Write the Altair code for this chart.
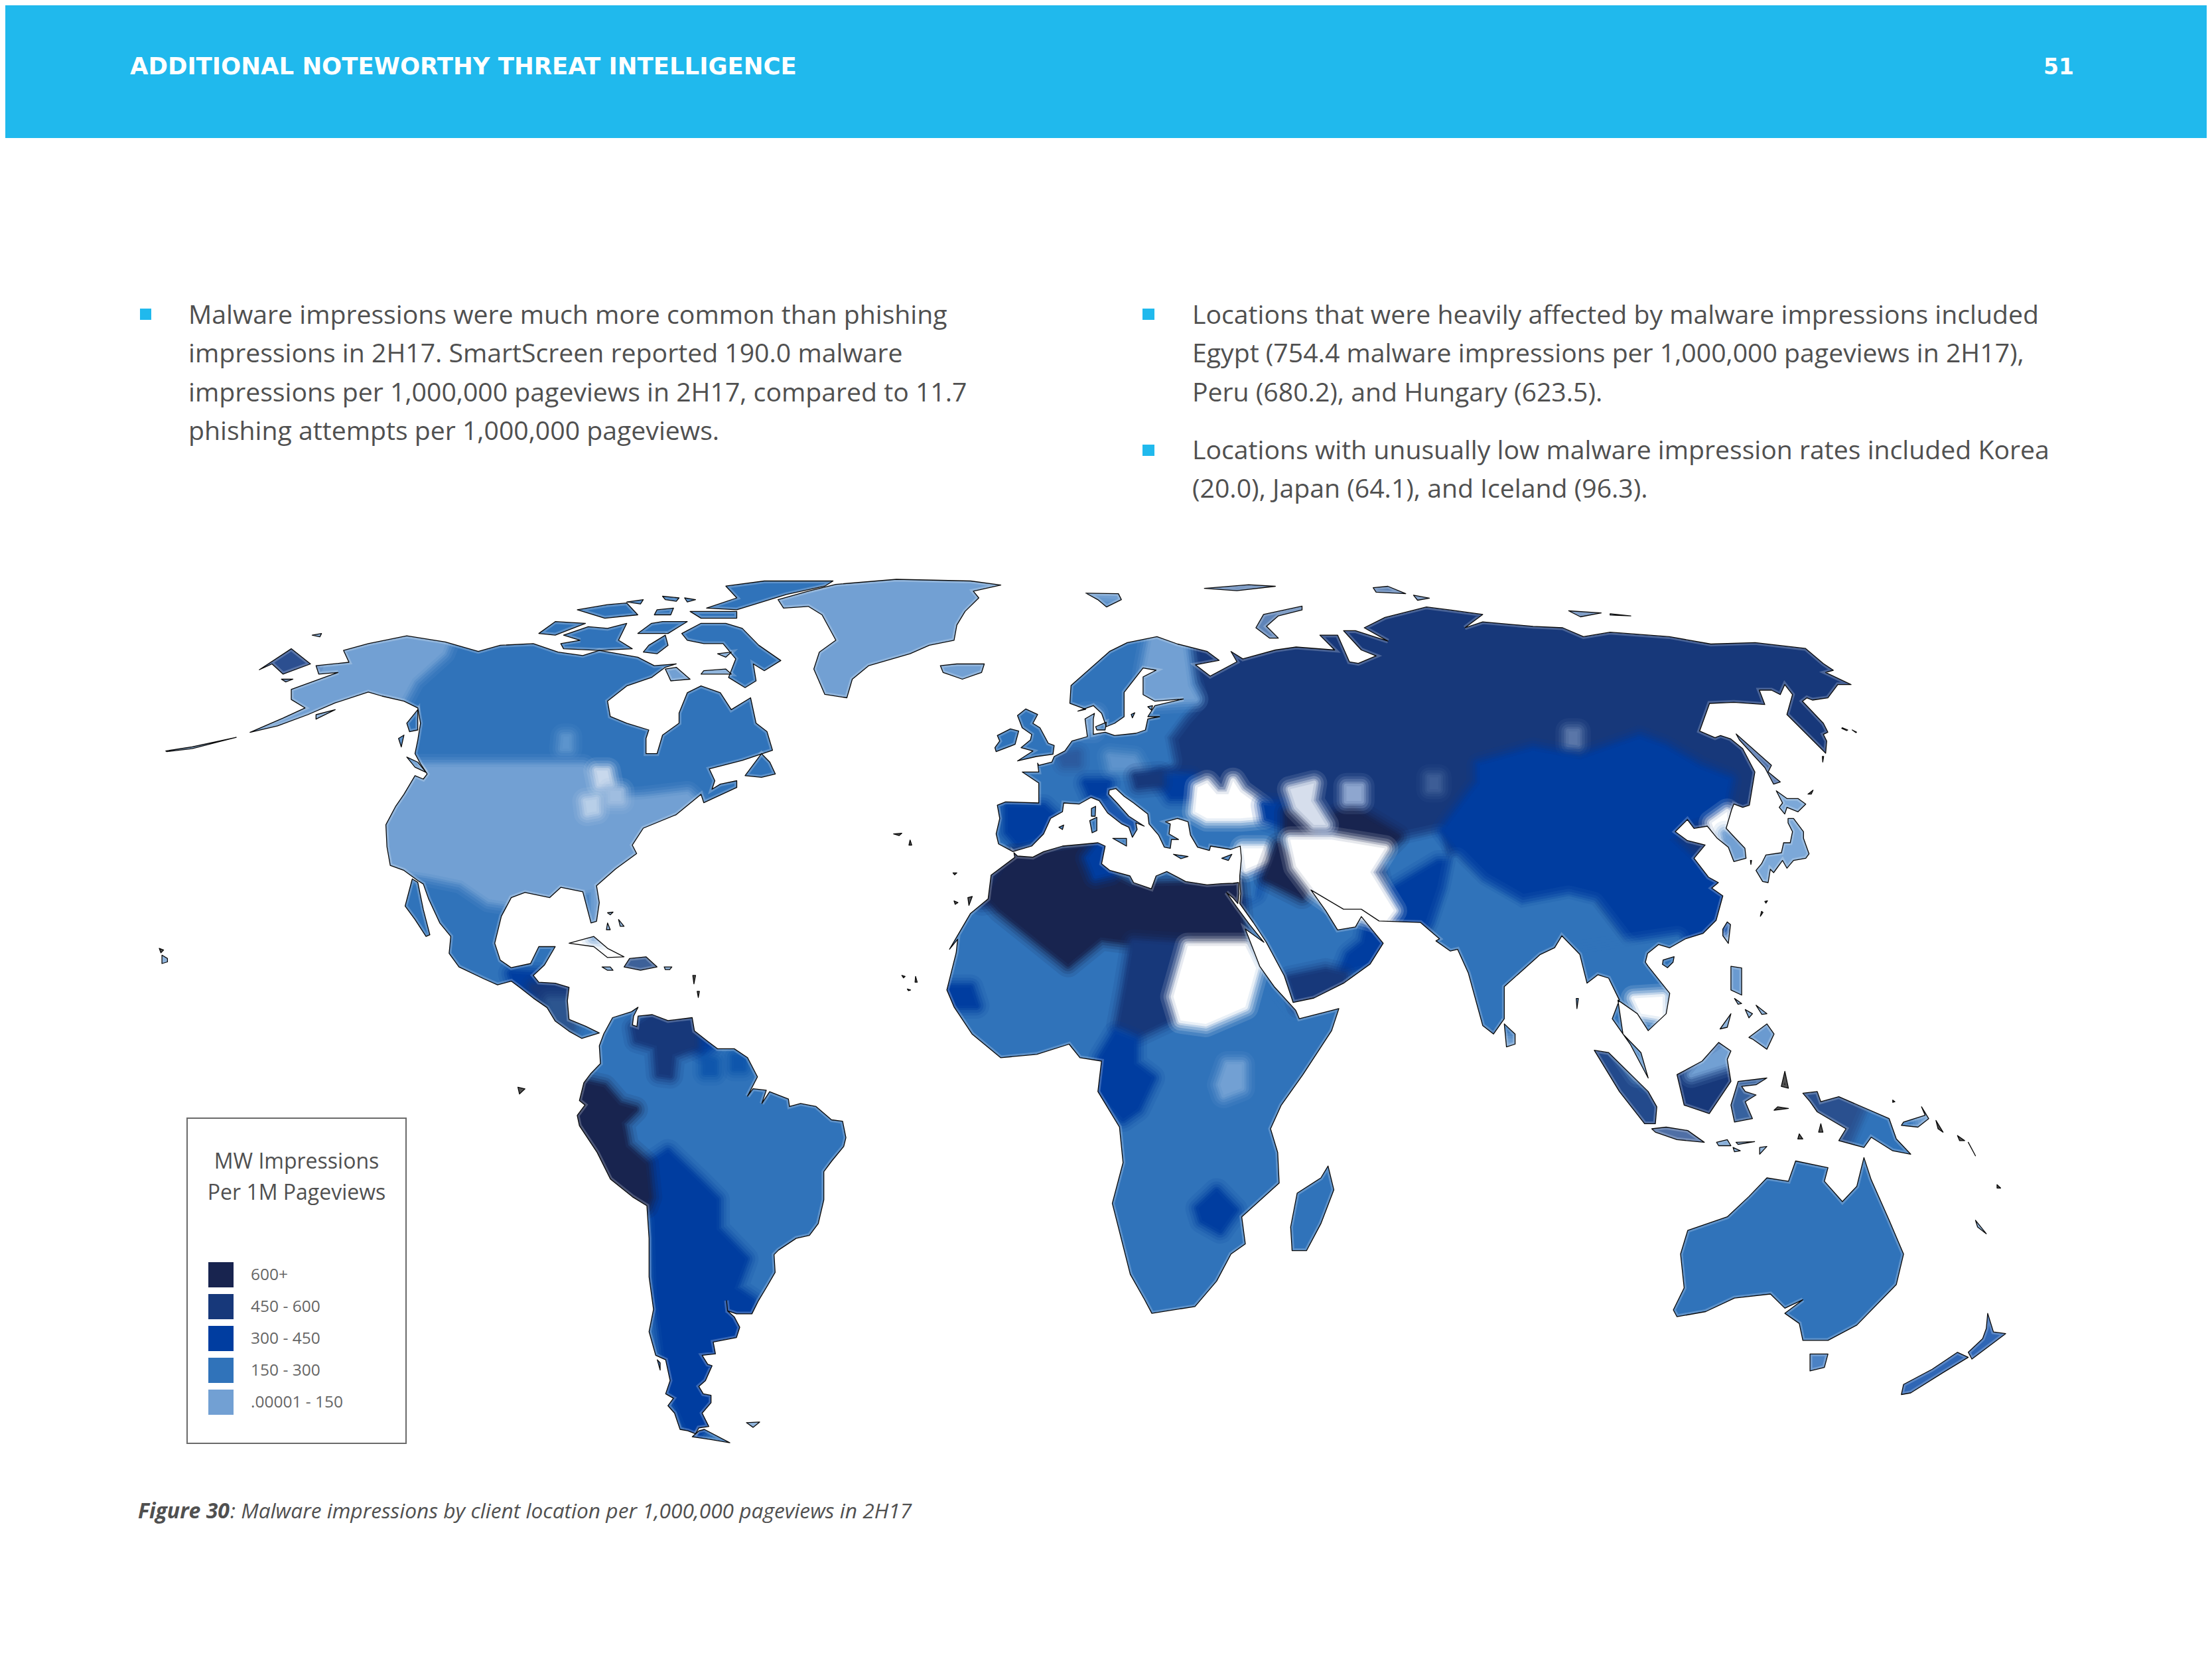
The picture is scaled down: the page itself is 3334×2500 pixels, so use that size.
import altair as alt

# page is photographed at 3334x2500, vega sits behind an 8px body margin
PAGE_W, PAGE_H = 3334, 2500
MARGIN = 8

C600 = "#18244f"
C450 = "#17387a"
C300 = "#003da0"
C150 = "#3073ba"
C000 = "#72a0d3"
WHITE = "#ffffff"
HEADER = "#20b9ed"
TEXT = "#505050"


def crop(ox, oy, w, h):
    kx = min(3 * w, 1568) / w
    ky = min(3 * h, 1568) / h
    return lambda pts: [[round(ox + x / kx, 1), round(oy + y / ky, 1)] for x, y in pts]


Z1 = crop(240, 850, 1300, 800)
Z2 = crop(1400, 850, 1400, 700)
Z3 = crop(1400, 1400, 1700, 800)
Z6 = crop(840, 1500, 500, 700)
Z7 = crop(1480, 1000, 560, 420)
Z8 = crop(2340, 1000, 500, 500)

# ─── Coast outlines ───────────────────────────────────────────────────────────

NORTH_AMERICA = Z1([
    (165, 497), (215, 478), (270, 445), (320, 410), (380, 378), (405, 390), (445, 405), (470, 425), (475, 470),
    (470, 520), (465, 560), (475, 590), (487, 620), (480, 635), (465, 625), (445, 680), (430, 715), (412, 770),
    (414, 835), (420, 890), (445, 905), (470, 935), (480, 945), (490, 990), (510, 1060), (530, 1100), (527, 1150),
    (545, 1190), (590, 1225), (615, 1243), (640, 1232), (655, 1250), (680, 1282), (705, 1310), (720, 1350),
    (745, 1380), (768, 1401), (800, 1385), (775, 1365), (745, 1345), (742, 1290), (745, 1250), (720, 1238),
    (690, 1235), (680, 1215), (700, 1185), (720, 1130), (690, 1130), (675, 1180), (640, 1192), (620, 1170),
    (610, 1120), (622, 1040), (640, 985), (665, 970), (710, 985), (730, 955), (770, 968), (785, 1060), (795, 1055),
    (800, 1000), (795, 950), (830, 900), (868, 855), (860, 830), (880, 780), (940, 740), (985, 680), (990, 705),
    (1050, 660), (1050, 640), (1020, 650), (1005, 665), (1010, 640), (1000, 605), (1060, 580), (1115, 550),
    (1105, 495), (1085, 470), (1075, 395), (1040, 430), (1020, 380), (985, 360), (960, 380), (945, 440), (945, 470),
    (915, 505), (905, 560), (885, 560), (885, 515), (890, 490), (850, 470), (820, 450), (815, 405), (850, 360),
    (895, 335), (920, 305), (940, 295), (900, 300), (870, 275), (800, 255), (770, 270), (725, 260), (680, 235),
    (620, 240), (580, 258), (520, 230), (450, 212), (380, 235), (335, 255), (345, 290), (285, 300), (290, 325),
    (325, 320), (240, 370), (240, 400), (265, 425), (225, 455),
])
BAFFIN = Z1([(950, 205), (985, 175), (1030, 175), (1060, 190), (1090, 240), (1130, 285), (1100, 315), (1080, 295),
             (1085, 345), (1065, 365), (1035, 335), (1048, 280), (1025, 235), (990, 235), (960, 225)])
VICTORIA = Z1([(735, 210), (780, 185), (815, 190), (850, 175), (835, 225), (860, 250), (800, 255), (735, 250),
               (730, 235), (765, 225)])
BANKS = Z1([(690, 205), (720, 170), (775, 175), (720, 210)])
ELLESMERE = Z1([(995, 130), (1050, 100), (1030, 65), (1100, 50), (1225, 50), (1210, 65), (1140, 90), (1100, 110),
                (1050, 135)])
DEVON = Z1([(965, 140), (1050, 140), (1050, 160), (985, 160)])
MELVILLE = Z1([(760, 135), (815, 120), (850, 115), (870, 150), (810, 160)])
SOMERSET = Z1([(915, 170), (960, 170), (925, 205), (870, 205), (895, 175)])
BOOTHIA = Z1([(890, 240), (920, 210), (925, 240), (905, 265), (880, 260)])
SOUTHAMPTON = Z1([(920, 310), (940, 305), (965, 340), (930, 345)])
COATS = Z1([(990, 315), (1030, 310), (1040, 325), (985, 325)])
FOXE = Z1([(1015, 265), (1040, 260), (1030, 275)])
SMALL_ARCTIC = [
    Z1([(915, 95), (945, 100), (940, 110), (920, 105)]),
    Z1([(955, 100), (975, 105), (960, 112)]),
    Z1([(850, 112), (880, 105), (875, 118)]),
    Z1([(905, 135), (935, 130), (930, 150), (900, 150)]),
]
NEWFOUNDLAND = Z1([(1095, 560), (1110, 585), (1120, 620), (1095, 630), (1065, 625)])
VANCOUVER = Z1([(450, 570), (470, 585), (485, 615), (465, 600)])
HAIDA = Z1([(435, 515), (445, 505), (440, 540)])
ALASKA_SOUTH = Z1([(450, 470), (470, 430), (470, 490), (455, 495)])
BAJA = Z1([(460, 930), (470, 940), (480, 1020), (492, 1095), (485, 1100), (465, 1050), (447, 1010)])
GREENLAND = Z1([(1125, 105), (1180, 80), (1230, 60), (1340, 45), (1475, 50), (1530, 62), (1480, 80), (1490, 100),
                 (1465, 140), (1450, 180), (1445, 225), (1400, 240), (1365, 265), (1290, 300), (1260, 340), (1250, 395),
                 (1210, 385), (1190, 310), (1200, 260), (1230, 225), (1205, 150), (1180, 125), (1135, 130)])
ICELAND = Z1([(1420, 300), (1450, 295), (1500, 295), (1495, 320), (1460, 340), (1425, 320)])
CHUKOTKA_TIP = Z1([(182, 312), (240, 250), (275, 295), (225, 325), (205, 295)])
ALEUTIANS = Z1([(12, 552), (60, 540), (140, 512), (108, 525), (60, 545), (14, 554)])
KODIAK = Z1([(285, 445), (320, 430), (285, 458)])
ST_LAWRENCE = Z1([(278, 210), (295, 205), (292, 215)])
NUNIVAK = Z1([(222, 340), (243, 340), (230, 348)])
HAWAII = Z1([(5, 1155), (15, 1165), (15, 1175), (5, 1180)])
CUBA = Z1([(745, 1120), (790, 1100), (815, 1135), (845, 1160), (815, 1162), (790, 1130)])
HISPANIOLA = Z1([(855, 1165), (885, 1160), (905, 1190), (875, 1200), (845, 1190)])
JAMAICA = Z1([(805, 1190), (820, 1190), (825, 1200), (815, 1200)])
PUERTO_RICO = Z1([(918, 1190), (932, 1190), (928, 1198), (920, 1198)])

SOUTH_AMERICA = Z6([
    (210, 130), (250, 75), (335, 55), (365, 40), (345, 70), (340, 100), (360, 105), (365, 70), (430, 65), (500, 85),
    (610, 75), (620, 120), (680, 155), (725, 180), (800, 180), (860, 210), (905, 275), (860, 340), (885, 315),
    (945, 320), (925, 365), (960, 325), (1045, 350), (1050, 375), (1100, 365), (1170, 375), (1240, 420), (1290, 425),
    (1305, 480), (1295, 510), (1240, 560), (1205, 595), (1205, 690), (1180, 770), (1140, 810), (1080, 820), (1000, 860),
    (980, 875), (985, 935), (950, 980), (910, 1030), (880, 1075), (810, 1075), (770, 1065), (765, 1030), (770, 1065),
    (800, 1085), (825, 1120), (810, 1155), (705, 1170), (715, 1210), (655, 1215), (680, 1245), (700, 1250), (670, 1300),
    (640, 1320), (660, 1345), (695, 1350), (695, 1375), (655, 1410), (685, 1455), (640, 1460), (625, 1480), (590, 1470),
    (555, 1465), (530, 1410), (500, 1385), (525, 1360), (490, 1345), (510, 1300), (490, 1230), (445, 1215), (415, 1135),
    (435, 1060), (415, 950), (415, 820), (405, 710), (340, 680), (240, 620), (180, 530), (100, 440), (90, 405),
    (125, 370), (100, 355), (120, 295), (150, 265), (195, 230), (190, 170),
])
FUEGO = Z6([(640, 1470), (665, 1465), (780, 1510), (700, 1500), (610, 1490)])
FALKLANDS = Z6([(855, 1442), (915, 1440), (885, 1458)])
CHILOE = Z6([(452, 1230), (465, 1240), (465, 1265)])

AFRICA = (
    Z7([(135, 855), (150, 870), (215, 875), (260, 850), (340, 825), (490, 810), (520, 825), (505, 905), (540, 935),
        (625, 960), (640, 990), (715, 1018), (735, 960), (780, 940), (860, 985), (950, 1000), (1010, 995), (1060, 993),
        (1083, 990), (1085, 1040), (1080, 1085), (1060, 1060), (1032, 1035), (1075, 1100), (1130, 1180), (1190, 1260)])
    + Z3([(440, 0), (460, 110), (480, 170), (510, 240), (515, 265), (570, 235), (560, 300), (520, 430), (490, 520),
          (475, 590), (485, 660), (487, 750), (435, 850), (440, 930), (420, 960), (400, 1040), (370, 1115), (310, 1135),
          (300, 1095), (280, 1020), (255, 810), (270, 690), (265, 585), (235, 480), (240, 390), (210, 380), (195, 340),
          (150, 370), (100, 380), (60, 310), (35, 230), (25, 180), (38, 70), (40, 30)])
    + Z2([(35, 1300), (70, 1180), (100, 1130), (105, 1050), (145, 990)])
)
MADAGASCAR = Z3([(555, 700), (563, 770), (545, 870), (525, 950), (505, 950), (503, 880), (512, 780), (545, 735)])

EURASIA = (
    Z7([(130, 850), (210, 825), (260, 770), (290, 700), (340, 670), (345, 630), (410, 635), (460, 605), (495, 620),
        (530, 675), (590, 725), (620, 740), (635, 785), (655, 750), (650, 720), (685, 735), (620, 690), (570, 630),
        (535, 590), (537, 572), (565, 565), (600, 600), (640, 630), (700, 680), (705, 725), (745, 775), (770, 830),
        (795, 835), (800, 795), (830, 795), (790, 770), (795, 725), (775, 715), (825, 700), (870, 715), (880, 775),
        (910, 830), (960, 845), (965, 825), (1050, 840), (1090, 825), (1095, 880), (1088, 960), (1088, 990),
        (1092, 1040), (1088, 1085), (1145, 1170), (1200, 1260)])
    + Z2([(600, 1390), (615, 1480), (650, 1465), (700, 1415), (745, 1350), (767, 1280), (730, 1190), (720, 1225),
          (690, 1235), (670, 1170), (645, 1100), (700, 1165), (730, 1165), (760, 1205), (830, 1210), (862, 1265)])
    + Z3([(705, 35), (725, 65), (735, 60), (750, 130), (770, 285), (785, 310), (800, 265), (800, 170), (850, 75),
          (870, 55), (880, 20), (905, 75), (915, 160), (930, 135), (945, 145), (960, 210), (950, 265), (975, 340),
          (1000, 440), (990, 365), (965, 310), (958, 210), (985, 250), (1000, 300), (1025, 250), (1030, 190), (1000, 110)])
    + Z8([(420, 1350), (430, 1310), (480, 1270), (530, 1285), (600, 1245), (680, 1220), (740, 1160), (770, 1050),
          (720, 1015), (750, 990), (705, 965), (640, 880), (690, 820), (610, 800), (555, 760), (610, 705), (640, 745),
          (700, 735), (745, 790), (795, 830), (820, 895), (875, 880), (870, 835), (785, 745), (810, 660), (820, 635),
          (860, 650), (890, 640), (915, 490), (860, 385), (805, 340), (760, 325), (735, 335), (700, 320), (665, 305),
          (710, 180), (820, 175), (960, 185), (935, 120), (990, 120), (1030, 140), (1050, 95), (1085, 140), (1060, 230),
          (1235, 405), (1240, 350), (1225, 320), (1245, 310), (1225, 270), (1130, 170), (1150, 155), (1175, 165),
          (1245, 155), (1290, 95), (1350, 95), (1235, 40), (1270, 30), (1225, 0)])
    + Z2([(1480, 285), (1395, 265), (1320, 270), (1250, 245), (1150, 230), (1105, 245), (1070, 215), (1020, 210),
          (935, 195), (905, 215), (935, 170), (880, 155), (840, 145), (770, 180), (735, 215), (775, 260), (720, 225),
          (700, 225), (730, 290), (755, 310), (725, 335), (710, 330), (690, 240), (660, 240), (685, 290), (620, 280),
          (585, 290), (530, 320), (510, 295), (520, 330), (475, 378), (450, 340), (490, 325), (470, 295), (420, 270),
          (385, 245), (335, 265), (305, 295), (240, 410), (238, 470), (265, 490)])
    + Z7([(405, 215), (470, 190), (505, 225), (525, 285), (560, 270), (600, 240), (600, 130), (680, 20), (735, 30),
          (680, 60), (680, 140), (730, 170), (850, 160), (730, 190), (700, 240), (750, 240), (700, 250), (690, 300),
          (650, 315), (560, 325), (520, 310), (470, 320), (470, 250), (475, 225), (435, 250), (445, 330), (380, 350),
          (350, 395), (305, 420), (295, 445), (240, 460), (235, 450), (240, 490), (170, 490), (240, 540), (240, 630),
          (100, 625), (65, 640), (75, 700), (60, 770), (70, 815)])
)

GREAT_BRITAIN = Z7([(185, 205), (235, 230), (215, 270), (245, 290), (280, 360), (305, 370), (300, 410), (230, 420),
                    (150, 440), (215, 395), (165, 380), (205, 345), (210, 320), (170, 290), (150, 235)])
IRELAND = Z7([(65, 325), (120, 295), (155, 305), (140, 365), (60, 398), (55, 380), (75, 350)])
SICILY = Z7([(552, 790), (610, 790), (610, 825)])
SARDINIA = Z7([(455, 710), (485, 695), (485, 755), (465, 765)])
CORSICA = Z7([(462, 655), (480, 645), (478, 690), (462, 690)])
CRETE = Z7([(808, 862), (870, 872), (840, 882)])
CYPRUS = Z7([(1012, 880), (1055, 862), (1040, 890)])
BALEARIC = Z7([(325, 740), (345, 730), (340, 750)])
ZEALAND = Z7([(480, 285), (525, 265), (520, 300), (485, 300)])
GOTLAND = Z7([(630, 230), (645, 222), (635, 245)])
SAAREMAA = Z7([(700, 195), (720, 190), (715, 210)])

NOVAYA_ZEMLYA = Z2([(552, 215), (565, 170), (630, 142), (630, 155), (590, 175), (570, 210), (590, 250), (575, 250)])
SVALBARD = Z2([(265, 98), (320, 100), (325, 120), (300, 145), (285, 120)])
FRANZ_JOSEF = Z2([(465, 82), (540, 70), (585, 75), (520, 90)])
SEVERNAYA = Z2([(750, 80), (775, 75), (805, 100), (755, 95)])
TAIMYR_ISLE = Z2([(818, 105), (845, 115), (825, 122)])
NEW_SIBERIAN = Z2([(1080, 158), (1135, 165), (1100, 178)])
NEW_SIBERIAN_2 = Z2([(1150, 168), (1185, 175), (1150, 172)])

HONSHU = Z8([(1065, 700), (1090, 700), (1135, 760), (1135, 790), (1160, 860), (1145, 880), (1090, 890), (1060, 925),
             (1040, 890), (1000, 945), (985, 930), (975, 990), (950, 985), (920, 935), (945, 905), (965, 865),
             (1035, 855), (1045, 810), (1075, 810), (1085, 760), (1065, 720)])
HOKKAIDO = Z8([(1012, 575), (1060, 610), (1110, 610), (1145, 635), (1110, 670), (1060, 650), (1050, 680), (1025, 650),
               (1040, 630)])
SAKHALIN = Z8([(830, 318), (990, 460), (975, 490), (1030, 535), (1000, 545), (960, 470), (845, 345)])
TAIWAN = Z8([(790, 1168), (805, 1180), (795, 1265), (770, 1230), (770, 1200)])
HAINAN = Z8([(500, 1340), (550, 1325), (545, 1350), (520, 1375), (497, 1360)])
SPECKS = [
    Z8([(1310, 290), (1335, 300), (1330, 303), (1308, 293)]),
    Z8([(1355, 300), (1375, 310), (1372, 312)]),
    Z8([(1220, 420), (1226, 420), (1222, 445)]),
    Z8([(1155, 590), (1178, 572), (1170, 590)]),
    Z8([(945, 1120), (952, 1125), (940, 1142)]),
    Z8([(960, 1075), (972, 1072), (965, 1083)]),
    Z8([(895, 890), (900, 890), (897, 908)]),
    Z3([(900, 205), (903, 205), (901, 235)]),
    Z1([(815, 1060), (820, 1080), (813, 1080)]),
    # Azores, Madeira, Canaries, Cape Verde
    Z1([(1335, 797), (1350, 795), (1345, 802)]),
    Z1([(1365, 815), (1368, 830), (1363, 830)]),
    Z1([(1443, 912), (1450, 912), (1446, 918)]),
    Z1([(1445, 995), (1452, 1000), (1447, 1005)]),
    Z1([(1470, 985), (1478, 982), (1472, 1008)]),
    Z1([(1350, 1215), (1356, 1218), (1353, 1222)]),
    Z1([(1375, 1218), (1378, 1235), (1374, 1235)]),
    Z1([(1360, 1255), (1366, 1258), (1362, 1260)]),
    # Caribbean
    Z1([(970, 1215), (975, 1215), (972, 1240)]),
    Z1([(978, 1262), (982, 1262), (980, 1280)]),
    Z1([(815, 1030), (825, 1028), (820, 1036)]),
    Z1([(835, 1050), (845, 1070), (838, 1070)]),
    Z1([(0, 1135), (8, 1140), (3, 1148)]),
    Z1([(652, 1545), (665, 1550), (655, 1565)]),
    # Pacific and the Banda Sea
    Z3([(1400, 565), (1410, 600), (1403, 590)]),
    Z3([(1430, 610), (1440, 625), (1433, 625)]),
    Z3([(1445, 630), (1455, 670), (1450, 650)]),
    Z3([(1485, 755), (1490, 765), (1485, 765)]),
    Z3([(1340, 505), (1343, 510), (1340, 512)]),
    Z3([(1190, 420), (1195, 470), (1185, 465)]),
    Z3([(1180, 525), (1195, 530), (1175, 535)]),
    Z3([(1240, 575), (1243, 600), (1237, 600)]),
    Z3([(1210, 605), (1215, 620), (1208, 620)]),
]
NEW_CALEDONIA = Z3([(1455, 860), (1470, 900), (1458, 880)])

LUZON = Z3([(1115, 110), (1130, 115), (1130, 195), (1115, 180)])
MINDANAO = Z3([(1140, 320), (1165, 280), (1175, 310), (1165, 355), (1145, 325)])
PALAWAN = Z3([(1100, 295), (1115, 250), (1110, 290)])
VISAYAS = [
    Z3([(1120, 205), (1130, 220), (1125, 222)]),
    Z3([(1150, 225), (1165, 250), (1158, 252)]),
    Z3([(1135, 238), (1145, 250), (1140, 262)]),
]
SUMATRA = Z3([(925, 358), (945, 365), (1000, 480), (1012, 525), (1010, 575), (995, 575), (960, 480)])
JAVA = Z3([(1005, 590), (1025, 585), (1055, 595), (1078, 630), (1040, 622), (1010, 600)])
BORNEO = Z3([(1040, 430), (1075, 390), (1098, 335), (1115, 360), (1110, 385), (1115, 450), (1085, 545), (1050, 520)])
SULAWESI = Z3([(1125, 450), (1165, 440), (1150, 460), (1130, 465), (1135, 480), (1150, 490), (1135, 510), (1145, 560),
               (1120, 570), (1115, 520)])
NEW_GUINEA = Z3([(1215, 485), (1235, 480), (1240, 510), (1265, 495), (1335, 560), (1345, 620), (1365, 665), (1340, 655),
                 (1310, 615), (1300, 645), (1265, 625), (1275, 590), (1235, 540), (1225, 510)])
NEW_BRITAIN = Z3([(1355, 570), (1385, 550), (1380, 525), (1390, 560), (1375, 585), (1352, 580)])
LESSER_SUNDA = [
    Z3([(1095, 630), (1110, 622), (1115, 640), (1098, 640)]),
    Z3([(1122, 630), (1148, 628), (1125, 636)]),
    Z3([(1155, 645), (1165, 642), (1155, 665)]),
    Z3([(1118, 645), (1128, 655), (1120, 658)]),
]
SRI_LANKA = Z3([(800, 280), (815, 310), (815, 340), (803, 348)])
AUSTRALIA = Z3([(1300, 675), (1310, 740), (1335, 860), (1355, 960), (1345, 1050), (1290, 1170), (1250, 1215),
                (1215, 1215), (1210, 1165), (1190, 1135), (1215, 1095), (1190, 1120), (1170, 1078), (1120, 1090),
                (1080, 1130), (1040, 1145), (1035, 1125), (1050, 1060), (1045, 960), (1055, 890), (1110, 850),
                (1140, 790), (1165, 735), (1195, 745), (1205, 685), (1250, 705), (1245, 745), (1270, 805), (1290, 760)])
TASMANIA = Z3([(1225, 1255), (1250, 1255), (1245, 1295), (1225, 1305)])
NZ_NORTH = Z3([(1472, 1135), (1480, 1190), (1497, 1195), (1450, 1270), (1445, 1250), (1465, 1210), (1470, 1180)])
NZ_SOUTH = Z3([(1430, 1250), (1445, 1265), (1410, 1310), (1365, 1370), (1352, 1375), (1355, 1345), (1395, 1300)])

LAND = [
    (NORTH_AMERICA, C150), (BAFFIN, C150), (VICTORIA, C150), (BANKS, C150), (ELLESMERE, C150), (DEVON, C150),
    (MELVILLE, C150), (SOMERSET, C150), (BOOTHIA, C150), (SOUTHAMPTON, C000), (COATS, C000), (FOXE, C000),
    (NEWFOUNDLAND, C150), (VANCOUVER, C150), (HAIDA, C150), (ALASKA_SOUTH, C150), (BAJA, C150), (GREENLAND, C000),
    (ICELAND, C000), (CHUKOTKA_TIP, "#2c4f90"), (ALEUTIANS, C000), (KODIAK, C000), (ST_LAWRENCE, C000), (NUNIVAK, C000),
    (HAWAII, C000), (CUBA, WHITE), (HISPANIOLA, "#3d6199"), (JAMAICA, C000), (PUERTO_RICO, C000),
    (SOUTH_AMERICA, C150), (FUEGO, C150), (FALKLANDS, C000), (CHILOE, C150),
    (AFRICA, C150), (MADAGASCAR, C150),
    (EURASIA, C450), (GREAT_BRITAIN, C150), (IRELAND, "#38629f"), (SICILY, "#4b82c4"), (SARDINIA, "#4b82c4"),
    (CORSICA, "#4b82c4"), (CRETE, C000), (CYPRUS, C000), (BALEARIC, C000), (ZEALAND, C000), (GOTLAND, C000),
    (SAAREMAA, C000), (NOVAYA_ZEMLYA, "#5f84b8"), (SVALBARD, C000), (FRANZ_JOSEF, "#5f84b8"), (SEVERNAYA, "#5f84b8"),
    (TAIMYR_ISLE, "#5f84b8"), (NEW_SIBERIAN, "#5f84b8"), (NEW_SIBERIAN_2, "#5f84b8"),
    (HONSHU, "#7ca8d8"), (HOKKAIDO, "#7ca8d8"), (SAKHALIN, "#4a6ea8"), (TAIWAN, "#a4c3e4"), (HAINAN, "#4680c4"),
    (LUZON, "#6a9ad0"), (MINDANAO, "#6a9ad0"), (PALAWAN, C000), (SUMATRA, "#234a8c"), (JAVA, "#4f6fa6"),
    (BORNEO, C450), (SULAWESI, "#37629f"), (NEW_GUINEA, "#2a508f"), (NEW_BRITAIN, C000), (SRI_LANKA, C000),
    (AUSTRALIA, C150), (TASMANIA, "#4b82c4"), (NZ_NORTH, "#2f66b5"), (NZ_SOUTH, "#2f66b5"), (NEW_CALEDONIA, C000),
] + [(r, C150) for r in SMALL_ARCTIC] + [(r, C000) for r in VISAYAS + LESSER_SUNDA] + [(r, "#222222") for r in SPECKS]

# ─── Value zones painted over the land, later ones on top ─────────────────────

ZONES = [
    # North America
    (Z1([(300, 190), (530, 200), (515, 260), (460, 340), (440, 400), (300, 460), (130, 520), (165, 560)]), C000),
    (Z1([(380, 600), (770, 600), (800, 650), (830, 700), (880, 695), (960, 680), (1000, 740), (1000, 1100), (790, 1100),
         (790, 960), (640, 1000), (600, 990), (550, 935), (490, 915), (430, 900), (380, 900)]), C000),
    (CHUKOTKA_TIP, "#2c4f90"),
    (Z1([(795, 610), (815, 610), (820, 650), (800, 650)]), "#c8d8ec"),
    (Z1([(775, 700), (795, 695), (795, 730), (778, 735)]), "#b8cfe8"),
    (Z1([(820, 670), (840, 670), (840, 700), (820, 700)]), "#9fbde0"),
    (Z1([(735, 510), (745, 510), (745, 545), (733, 545)]), "#5c94cd"),
    (Z1([(640, 1210), (690, 1215), (690, 1260), (650, 1260)]), C300),
    (Z1([(680, 1250), (745, 1240), (745, 1290), (700, 1290)]), C450),
    (Z1([(710, 1290), (745, 1290), (750, 1370), (725, 1350)]), "#2c558f"),
    # South America
    (Z6([(420, 570), (500, 530), (640, 630), (720, 690), (720, 790), (850, 890), (800, 990), (880, 1030), (880, 1080),
         (830, 1160), (700, 1280), (700, 1400), (640, 1480), (590, 1470), (500, 1310), (450, 1010), (440, 760),
         (420, 690)]), C300),
    (Z6([(90, 290), (210, 310), (280, 370), (350, 385), (290, 430), (310, 510), (400, 570), (415, 680), (400, 710),
         (230, 630), (90, 450)]), C600),
    (Z6([(620, 120), (690, 170), (660, 190), (620, 170)]), C300),
    (Z6([(670, 215), (710, 225), (710, 260), (670, 260)]), "#0f56ac"),
    (Z6([(800, 210), (840, 210), (840, 245), (800, 245)]), "#0f56ac"),
    (Z6([(350, 110), (430, 70), (620, 90), (620, 170), (520, 200), (510, 270), (460, 265), (450, 170), (360, 150)]), C450),
    # Europe, Turkey and the Caucasus
    (Z7([(300, -260), (850, -200), (870, 50), (900, 160), (840, 230), (770, 330), (790, 440), (650, 500), (880, 560),
         (900, 700), (1290, 700), (1290, 830), (1100, 860), (1080, 900), (800, 900), (700, 880), (520, 800), (260, 800),
         (150, 840), (40, 870), (0, 870), (0, 200)]), C150),
    (Z7([(720, -130), (840, -130), (870, 100), (900, 160), (720, 170), (690, 130), (690, 40)]), C000),
    (Z7([(440, 230), (480, 230), (470, 300), (440, 300)]), C000),
    (Z7([(110, 650), (260, 650), (300, 690), (260, 780), (150, 810), (110, 760)]), C300),
    (Z7([(440, 540), (530, 540), (520, 600), (460, 590)]), C300),
    (Z7([(530, 640), (600, 700), (650, 720), (620, 740), (540, 680)]), "#1a55ad"),
    (Z7([(340, 420), (400, 410), (400, 450), (350, 450)]), "#2c5a9e"),
    (Z7([(540, 420), (640, 430), (660, 470), (550, 470)]), "#5e93cc"),
    (Z7([(750, 520), (880, 520), (880, 600), (800, 600)]), C300),
    (Z7([(650, 510), (750, 500), (750, 540), (660, 550)]), C450),
    (Z7([(910, 560), (950, 540), (990, 590), (1040, 590), (1060, 530), (1090, 580), (1180, 650), (1190, 690),
         (1090, 700), (950, 700), (900, 670)]), WHITE),
    (Z7([(1190, 640), (1280, 650), (1290, 730), (1200, 700)]), C300),
    # Middle East and Central Asia
    (Z2([(520, 1070), (640, 1100), (700, 1180), (800, 1300), (620, 1500), (500, 1200)]), C150),
    (Z2([(740, 1230), (790, 1280), (760, 1340), (700, 1370), (710, 1320), (735, 1280)]), C300),
    (Z2([(610, 1400), (670, 1375), (700, 1390), (700, 1430), (625, 1490)]), C450),
    (Z2([(520, 1060), (560, 1050), (550, 1110), (530, 1130)]), C300),
    (Z7([(1090, 960), (1150, 980), (1140, 1050), (1100, 1040)]), C150),
    (Z2([(530, 960), (565, 960), (570, 1000), (535, 1030)]), WHITE),
    (Z2([(770, 960), (860, 920), (870, 1000), (850, 1060), (790, 1130)]), C150),
    (Z2([(785, 1100), (860, 1010), (880, 1010), (880, 1120), (860, 1220), (790, 1200)]), C300),
    (Z2([(690, 850), (715, 830), (790, 920), (770, 960), (700, 920)]), C600),
    (Z2([(605, 840), (640, 860), (640, 900), (605, 900)]), C600),
    (Z2([(590, 950), (610, 1000), (640, 1090), (630, 1120), (570, 1060)]), C600),
    (Z2([(610, 930), (680, 930), (770, 960), (745, 1040), (785, 1170), (770, 1210), (700, 1170), (650, 1100),
         (620, 1020)]), WHITE),
    (Z2([(610, 760), (650, 740), (645, 800), (670, 880), (650, 880), (620, 820)]), "#d6deec"),
    (Z2([(705, 750), (730, 750), (730, 800), (705, 800)]), "#8ea6cf"),
    (Z2([(1080, 565), (1095, 565), (1095, 610), (1080, 610)]), "#5a76a8"),
    (Z2([(845, 720), (860, 720), (860, 760), (845, 760)]), "#3d5d96"),
    # China, South and East Asia
    (Z2([(870, 900), (930, 740), (930, 680), (1020, 630), (1100, 660), (1200, 590), (1240, 620), (1300, 690),
         (1350, 730), (1340, 830), (1290, 860), (1250, 930), (1340, 1100), (1340, 1230), (1240, 1290), (1180, 1270),
         (1130, 1130), (1020, 1170), (950, 1110), (900, 980)]), C300),
    (Z2([(890, 1000), (930, 1080), (1000, 1160), (1080, 1130), (1120, 1150), (1170, 1280), (1250, 1400), (1260, 1568),
         (900, 1568), (850, 1260), (860, 1220), (880, 1100)]), C150),
    (Z3([(880, 80), (1040, 30), (1040, 300), (1000, 450), (940, 300)]), C150),
    (Z3([(950, 300), (1000, 430), (985, 430), (950, 320)]), C000),
    (Z3([(980, 205), (1020, 200), (1020, 260), (990, 250)]), WHITE),
    (Z8([(720, 720), (790, 670), (790, 760), (760, 790), (730, 750)]), WHITE),
    (Z8([(780, 770), (875, 840), (875, 880), (825, 895), (790, 810)]), C000),
    # Africa
    (Z7([(130, 870), (230, 885), (130, 960), (50, 1070), (0, 1080), (40, 980)]), C450),
    (Z2([(100, 1120), (140, 990), (290, 950), (300, 1050), (340, 1090), (520, 1080), (530, 1280), (440, 1280),
         (330, 1270), (290, 1260), (235, 1350), (120, 1165)]), C600),
    (Z7([(500, 810), (525, 820), (505, 905), (540, 945), (480, 960), (450, 880)]), C300),
    (Z2([(30, 1430), (70, 1430), (80, 1490), (40, 1490)]), C300),
    (Z3([(285, 40), (355, 50), (345, 170), (340, 260), (290, 310), (265, 285), (275, 170)]), C450),
    (Z3([(360, 50), (440, 50), (455, 115), (440, 230), (385, 280), (350, 270), (340, 200)]), WHITE),
    (Z3([(260, 310), (285, 330), (285, 400), (310, 440), (290, 530), (270, 560), (240, 490), (235, 440), (240, 380)]), C300),
    (Z3([(415, 400), (435, 400), (435, 470), (410, 490), (405, 460)]), C000),
    (Z3([(400, 775), (425, 830), (405, 890), (380, 860), (375, 825)]), C300),
    # Islands
    (Z3([(1075, 390), (1110, 340), (1120, 390), (1060, 430)]), C000),
    (Z3([(1310, 540), (1360, 560), (1370, 670), (1320, 650), (1290, 640), (1300, 590)]), C150),
]

# soft edge of the zones: stroke width and opacity of the halos under each fill
HALOS = [(40, 0.12), (30, 0.18), (22, 0.28), (14, 0.42), (8, 0.65)]

# ─── Page content ─────────────────────────────────────────────────────────────

HEADER_TITLE = "ADDITIONAL NOTEWORTHY THREAT INTELLIGENCE"
PAGE_NUMBER = "51"
LEFT_LINES = [
    "Malware impressions were much more common than phishing",
    "impressions in 2H17. SmartScreen reported 190.0 malware",
    "impressions per 1,000,000 pageviews in 2H17, compared to 11.7",
    "phishing attempts per 1,000,000 pageviews.",
]
RIGHT_LINES_1 = [
    "Locations that were heavily affected by malware impressions included",
    "Egypt (754.4 malware impressions per 1,000,000 pageviews in 2H17),",
    "Peru (680.2), and Hungary (623.5).",
]
RIGHT_LINES_2 = [
    "Locations with unusually low malware impression rates included Korea",
    "(20.0), Japan (64.1), and Iceland (96.3).",
]
LEGEND_TITLE = ["MW Impressions", "Per 1M Pageviews"]
LEGEND_LABELS = ["600+", "450 - 600", "300 - 450", "150 - 300", ".00001 - 150"]
LEGEND_COLORS = [C600, C450, C300, C150, C000]
CAPTION_BOLD = "Figure 30"
CAPTION = ": Malware impressions by client location per 1,000,000 pageviews in 2H17"

ONE_ROW = alt.Data(values=[{"k": 0}])
MAP_PROJECTION = alt.Projection(type="identity", scale=1, translate=[-MARGIN, -MARGIN])


def closed(ring):
    return ring + [ring[0]]


def signed_area(ring):
    return sum(a[0] * b[1] - b[0] * a[1] for a, b in zip(ring, ring[1:] + ring[:1])) / 2


def feature(rings, **props):
    return {"type": "Feature", "properties": props, "geometry": {"type": "Polygon", "coordinates": rings}}


def text(label, x, y, size, color=TEXT, font="Open Sans", weight=400, style="normal", align="left"):
    return alt.Chart(alt.Data(values=[{"t": label}])).mark_text(
        font=font, fontSize=size, fontWeight=weight, fontStyle=style, color=color, align=align, baseline="alphabetic",
    ).encode(x=alt.value(x - MARGIN), y=alt.value(y - MARGIN), text="t:N")


def box(x0, y0, x1, y1, fill, stroke=None):
    opts = {"color": fill}
    if stroke:
        opts.update(stroke=stroke, strokeWidth=2, fillOpacity=0)
    return alt.Chart(ONE_ROW).mark_rect(**opts).encode(
        x=alt.value(x0 - MARGIN), x2=alt.value(x1 - MARGIN), y=alt.value(y0 - MARGIN), y2=alt.value(y1 - MARGIN),
    )


# land first, then every zone with its halos
paint = [feature([closed(r)], col=c, sw=0, op=1) for r, c in LAND]
for ring, col in ZONES:
    for sw, op in HALOS:
        paint.append(feature([closed(ring)], col=col, sw=sw, op=op))
    paint.append(feature([closed(ring)], col=col, sw=0, op=1))

map_fill = alt.Chart(alt.Data(values=paint)).mark_geoshape(strokeJoin="round").encode(
    fill=alt.Fill("properties.col:N", scale=None),
    stroke=alt.Stroke("properties.col:N", scale=None),
    strokeWidth=alt.StrokeWidth("properties.sw:Q", scale=None),
    opacity=alt.Opacity("properties.op:Q", scale=None),
).project(**MAP_PROJECTION.to_dict())

# white sheet with the land cut out keeps the zones inside the coasts
sheet = [[150, 845], [3250, 845], [3250, 2235], [150, 2235]]
holes = []
for ring, _ in LAND:
    same_way = (signed_area(ring) > 0) == (signed_area(sheet) > 0)
    holes.append(closed(ring[::-1] if same_way else ring))
ocean = alt.Chart(alt.Data(values=[feature([closed(sheet)] + holes)])).mark_geoshape(
    fill=WHITE, stroke=None, strokeWidth=0
).project(**MAP_PROJECTION.to_dict())

outlines = [feature([closed(r)]) for r, _ in LAND]
coast_glow = alt.Chart(alt.Data(values=outlines)).mark_geoshape(
    filled=False, stroke=WHITE, strokeWidth=7, strokeOpacity=0.22
).project(**MAP_PROJECTION.to_dict())
coast = alt.Chart(alt.Data(values=outlines)).mark_geoshape(
    filled=False, stroke="#080808", strokeWidth=1.3, strokeJoin="round"
).project(**MAP_PROJECTION.to_dict())

layers = [box(0, 0, PAGE_W, 208, HEADER), map_fill, ocean, coast_glow, coast]

layers.append(text(HEADER_TITLE, 196, 112, 35.5, color=WHITE, font="DejaVu Sans", weight=700))
layers.append(text(PAGE_NUMBER, 3126, 112, 33, color=WHITE, font="DejaVu Sans", weight=700, align="right"))

layers.append(box(211, 465, 228, 482, HEADER))
layers.append(box(1722, 465, 1740, 482, HEADER))
layers.append(box(1722, 670, 1740, 687, HEADER))
for i, line in enumerate(LEFT_LINES):
    layers.append(text(line, 284, 488 + 58.3 * i, 39.2))
for i, line in enumerate(RIGHT_LINES_1):
    layers.append(text(line, 1797, 488 + 58.3 * i, 39.2))
for i, line in enumerate(RIGHT_LINES_2):
    layers.append(text(line, 1797, 692 + 58.3 * i, 39.2))

layers.append(box(282, 1685, 612, 2175, WHITE))
layers.append(box(282, 1685, 612, 2175, WHITE, stroke="#6a6a6a"))
for i, line in enumerate(LEGEND_TITLE):
    layers.append(text(line, 447, 1761 + 47 * i, 32, align="center"))
for i, (label, col) in enumerate(zip(LEGEND_LABELS, LEGEND_COLORS)):
    top = 1902 + 48 * i
    layers.append(box(314, top, 352, top + 38, col))
    layers.append(text(label, 378, top + 27, 24.5, color="#666666"))

layers.append(text(CAPTION_BOLD, 208, 2288, 32, weight=700, style="italic"))
layers.append(text(CAPTION, 347, 2288, 31.7, style="italic"))

chart = alt.layer(*layers).properties(
    width=PAGE_W - 2 * MARGIN, height=PAGE_H - 2 * MARGIN, padding=0, autosize="none", background=WHITE
).configure_view(strokeWidth=0)

chart.save("out.html", embed_options={"renderer": "svg", "actions": False})
